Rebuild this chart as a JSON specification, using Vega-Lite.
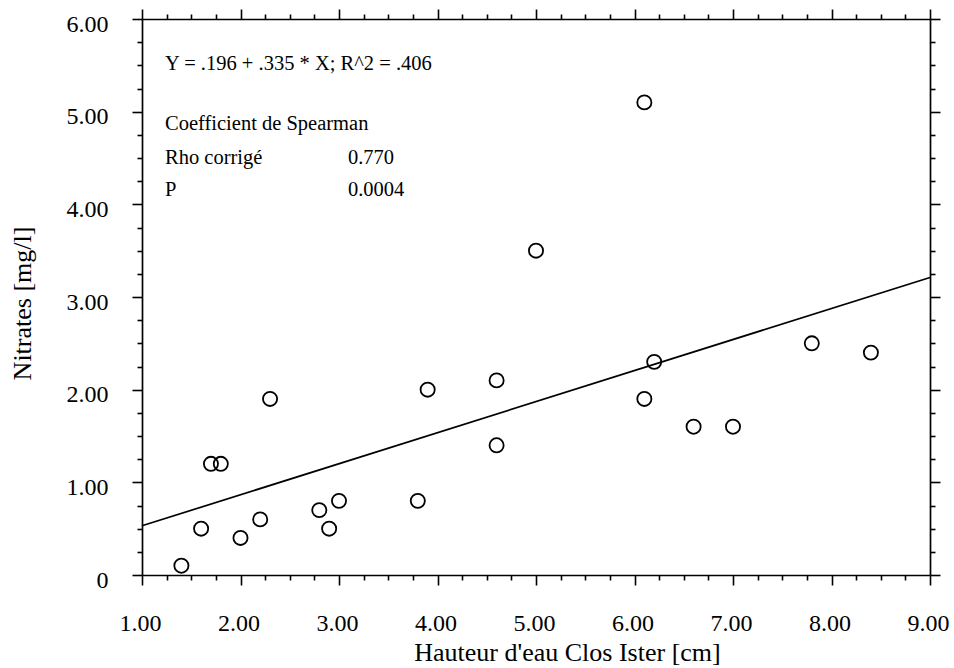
{
  "$schema": "https://vega.github.io/schema/vega-lite/v6.json",
  "width": 788,
  "height": 556,
  "autosize": {"type": "none"},
  "padding": {"left": 142, "top": 19, "right": 24, "bottom": 93},
  "background": "white",
  "config": {
    "view": {"stroke": null},
    "font": "Liberation Serif",
    "axis": {
      "grid": false,
      "domainColor": "black",
      "tickColor": "black",
      "labelColor": "black",
      "titleColor": "black",
      "labelFont": "Liberation Serif",
      "titleFont": "Liberation Serif",
      "titleFontWeight": "normal",
      "domainWidth": 1.7,
      "tickWidth": 1.6,
      "labelFlush": false,
      "labelOverlap": false
    }
  },
  "resolve": {"axis": {"x": "independent", "y": "independent"}},
  "layer": [
    {
      "data": {"values": [{"hx": 1, "ny": 0.531}, {"hx": 9, "ny": 3.211}]},
      "mark": {"type": "line", "color": "black", "strokeWidth": 1.7},
      "encoding": {
        "x": {
          "field": "hx", "type": "quantitative",
          "scale": {"domain": [1, 9], "nice": false, "zero": false},
          "axis": {
            "orient": "bottom", "values": [1, 2, 3, 4, 5, 6, 7, 8, 9], "format": ".2f",
            "tickSize": 10, "labelFontSize": 24, "labelPadding": 26, "labelOffset": -2,
            "title": "Hauteur d'eau Clos Ister [cm]", "titleFontSize": 26,
            "titleX": 425, "titleY": 85, "titleAlign": "center", "titleBaseline": "alphabetic"
          }
        },
        "y": {
          "field": "ny", "type": "quantitative",
          "scale": {"domain": [0, 6], "nice": false, "zero": false},
          "axis": {
            "orient": "left", "values": [0, 1, 2, 3, 4, 5, 6],
            "labelExpr": "datum.value == 0 ? '0' : format(datum.value, '.2f')",
            "tickSize": 10, "labelFontSize": 24, "labelPadding": 24, "labelOffset": 5,
            "title": "Nitrates [mg/l]", "titleFontSize": 26, "titleAngle": -90,
            "titleX": -112, "titleY": 284, "titleAlign": "center", "titleBaseline": "alphabetic"
          }
        }
      }
    },
    {
      "data": {"values": [
        {"hx": 1.4, "ny": 0.1}, {"hx": 1.6, "ny": 0.5}, {"hx": 1.7, "ny": 1.2}, {"hx": 1.8, "ny": 1.2},
        {"hx": 2.0, "ny": 0.4}, {"hx": 2.2, "ny": 0.6}, {"hx": 2.3, "ny": 1.9}, {"hx": 2.8, "ny": 0.7},
        {"hx": 2.9, "ny": 0.5}, {"hx": 3.0, "ny": 0.8}, {"hx": 3.8, "ny": 0.8}, {"hx": 3.9, "ny": 2.0},
        {"hx": 4.6, "ny": 2.1}, {"hx": 4.6, "ny": 1.4}, {"hx": 5.0, "ny": 3.5}, {"hx": 6.1, "ny": 5.1},
        {"hx": 6.1, "ny": 1.9}, {"hx": 6.2, "ny": 2.3}, {"hx": 6.6, "ny": 1.6}, {"hx": 7.0, "ny": 1.6},
        {"hx": 7.8, "ny": 2.5}, {"hx": 8.4, "ny": 2.4}
      ]},
      "mark": {"type": "point", "shape": "circle", "filled": false, "color": "black", "size": 200, "strokeWidth": 1.8, "opacity": 1},
      "encoding": {
        "x": {
          "field": "hx", "type": "quantitative",
          "scale": {"domain": [1, 9], "nice": false, "zero": false},
          "axis": {"orient": "top", "values": [1, 2, 3, 4, 5, 6, 7, 8, 9], "labels": false, "tickSize": 10, "title": null}
        },
        "y": {
          "field": "ny", "type": "quantitative",
          "scale": {"domain": [0, 6], "nice": false, "zero": false},
          "axis": {"orient": "right", "values": [0, 1, 2, 3, 4, 5, 6], "labels": false, "tickSize": 10, "title": null}
        }
      }
    },
    {
      "data": {"values": [
        {"tx": 1.2335, "ty": 5.449, "label": "Y = .196 + .335 * X; R^2 = .406"},
        {"tx": 1.2335, "ty": 4.802, "label": "Coefficient de Spearman"},
        {"tx": 1.2335, "ty": 4.435, "label": "Rho corrigé"},
        {"tx": 1.2335, "ty": 4.09, "label": "P"}
      ]},
      "mark": {"type": "text", "align": "left", "baseline": "alphabetic", "fontSize": 20.5, "font": "Liberation Serif", "color": "black"},
      "encoding": {
        "x": {
          "field": "tx", "type": "quantitative",
          "scale": {"domain": [1, 9], "nice": false, "zero": false},
          "axis": {"orient": "bottom", "values": [1.25, 1.5, 1.75, 2.25, 2.5, 2.75, 3.25, 3.5, 3.75, 4.25, 4.5, 4.75, 5.25, 5.5, 5.75, 6.25, 6.5, 6.75, 7.25, 7.5, 7.75, 8.25, 8.5, 8.75], "labels": false, "domain": false, "tickSize": 5, "title": null}
        },
        "y": {
          "field": "ty", "type": "quantitative",
          "scale": {"domain": [0, 6], "nice": false, "zero": false},
          "axis": {"orient": "left", "values": [0.25, 0.5, 0.75, 1.25, 1.5, 1.75, 2.25, 2.5, 2.75, 3.25, 3.5, 3.75, 4.25, 4.5, 4.75, 5.25, 5.5, 5.75], "labels": false, "domain": false, "tickSize": 5, "title": null}
        },
        "text": {"field": "label"}
      }
    },
    {
      "data": {"values": [
        {"tx": 3.091, "ty": 4.435, "label": "0.770"},
        {"tx": 3.091, "ty": 4.09, "label": "0.0004"}
      ]},
      "mark": {"type": "text", "align": "left", "baseline": "alphabetic", "fontSize": 20.5, "font": "Liberation Serif", "color": "black"},
      "encoding": {
        "x": {
          "field": "tx", "type": "quantitative",
          "scale": {"domain": [1, 9], "nice": false, "zero": false},
          "axis": {"orient": "top", "values": [1.25, 1.5, 1.75, 2.25, 2.5, 2.75, 3.25, 3.5, 3.75, 4.25, 4.5, 4.75, 5.25, 5.5, 5.75, 6.25, 6.5, 6.75, 7.25, 7.5, 7.75, 8.25, 8.5, 8.75], "labels": false, "domain": false, "tickSize": 5, "title": null}
        },
        "y": {
          "field": "ty", "type": "quantitative",
          "scale": {"domain": [0, 6], "nice": false, "zero": false},
          "axis": {"orient": "right", "values": [0.25, 0.5, 0.75, 1.25, 1.5, 1.75, 2.25, 2.5, 2.75, 3.25, 3.5, 3.75, 4.25, 4.5, 4.75, 5.25, 5.5, 5.75], "labels": false, "domain": false, "tickSize": 5, "title": null}
        },
        "text": {"field": "label"}
      }
    }
  ]
}
